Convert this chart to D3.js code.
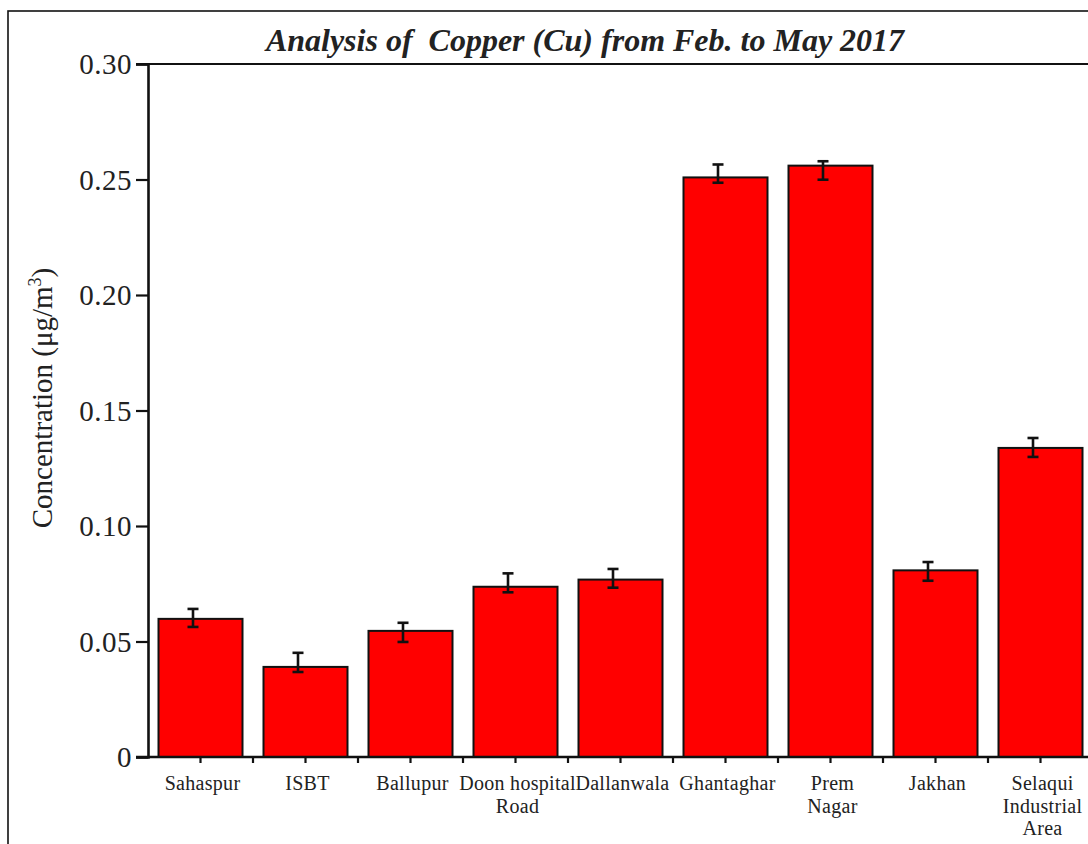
<!DOCTYPE html>
<html>
<head>
<meta charset="utf-8">
<script src="https://cdn.jsdelivr.net/npm/d3@7"></script>
<style>
  html, body { margin: 0; padding: 0; background: #fff; }
  svg { display: block; }
  text { font-family: "Liberation Serif", "Times New Roman", serif; fill: #222; }
</style>
</head>
<body>
<svg id="chart" width="1088" height="844"></svg>
<script>
const categories = ["Sahaspur", "ISBT", "Ballupur", "Doon hospital|Road", "Dallanwala",
                    "Ghantaghar", "Prem|Nagar", "Jakhan", "Selaqui|Industrial|Area"];
const values   = [0.0598, 0.0390, 0.0546, 0.0737, 0.0768, 0.2509, 0.2560, 0.0808, 0.1338];
const errPlus  = [0.0043, 0.0061, 0.0035, 0.0058, 0.0046, 0.0056, 0.0019, 0.0036, 0.0043];
const errMinus = [0.0035, 0.0022, 0.0048, 0.0024, 0.0035, 0.0023, 0.0061, 0.0045, 0.0039];
const yTicks   = [0, 0.05, 0.10, 0.15, 0.20, 0.25, 0.30];
const titleText = "Analysis of  Copper (Cu) from Feb. to May 2017";

const svg = d3.select("#chart");

// outer frame (extends beyond the visible area on right/bottom)
svg.append("rect")
  .attr("x", 8).attr("y", 11).attr("width", 1200).attr("height", 1000)
  .attr("fill", "none").attr("stroke", "#111").attr("stroke-width", 1.6);

const x = d3.scaleBand().domain(categories).range([148, 1093])
  .paddingInner(0.2).paddingOuter(0.1);
const y = d3.scaleLinear().domain([0, 0.30]).range([757, 64]);

// plot box top line
svg.append("line")
  .attr("x1", 136).attr("x2", 1100).attr("y1", y(0.30)).attr("y2", y(0.30))
  .attr("stroke", "#111").attr("stroke-width", 2);

// bars
svg.append("g").selectAll("rect").data(categories).join("rect")
  .attr("x", d => x(d))
  .attr("y", (d, i) => y(values[i]))
  .attr("width", x.bandwidth())
  .attr("height", (d, i) => y(0) - y(values[i]))
  .attr("fill", "#ff0000")
  .attr("stroke", "#111")
  .attr("stroke-width", 2);

// error bars (drawn slightly left of bar centre, as in the original)
const eb = svg.append("g").attr("stroke", "#111").attr("stroke-width", 2.6);
categories.forEach((c, i) => {
  const cx = x(c) + x.bandwidth() / 2 - 7.5;
  const yt = y(values[i] + errPlus[i]);
  const yb = y(values[i] - errMinus[i]);
  eb.append("line").attr("x1", cx).attr("x2", cx).attr("y1", yt).attr("y2", yb);
  eb.append("line").attr("x1", cx - 5.5).attr("x2", cx + 5.5).attr("y1", yt).attr("y2", yt);
  eb.append("line").attr("x1", cx - 5.5).attr("x2", cx + 5.5).attr("y1", yb).attr("y2", yb);
});

// y axis
const yAxis = svg.append("g").attr("transform", "translate(148,0)")
  .call(d3.axisLeft(y).tickValues(yTicks).tickSize(12).tickPadding(4)
    .tickFormat(d => d === 0 ? "0" : d3.format(".2f")(d)));
yAxis.select(".domain").attr("stroke", "#111").attr("stroke-width", 2.6);
yAxis.selectAll(".tick line").attr("stroke", "#111").attr("stroke-width", 2.2);
yAxis.selectAll(".tick text")
  .style("font-family", '"Liberation Serif", "Times New Roman", serif')
  .style("font-size", "29px").style("letter-spacing", "0.5px")
  .attr("fill", "#333").attr("dy", "0.34em");

// x axis
const xAxisG = svg.append("g").attr("transform", "translate(0,757)");
xAxisG.append("line").attr("x1", 136).attr("x2", 1100).attr("y1", 0).attr("y2", 0)
  .attr("stroke", "#111").attr("stroke-width", 2.6);
const tickPos = [];
categories.forEach((c, i) => {
  tickPos.push(x(c) + x.bandwidth() / 2);
  tickPos.push(x.range()[0] + x.step() * (i + 1));
});
xAxisG.selectAll("line.tk").data(tickPos).join("line").attr("class", "tk")
  .attr("x1", d => d).attr("x2", d => d).attr("y1", 0).attr("y2", 6)
  .attr("stroke", "#111").attr("stroke-width", 2.2);

const xl = svg.append("g");
categories.forEach((c, i) => {
  const lines = c.split("|");
  const t = xl.append("text")
    .attr("x", x(c) + x.bandwidth() / 2 + 2)
    .attr("y", 790)
    .attr("text-anchor", "middle")
    .style("font-size", "20px")
    .style("letter-spacing", "0.3px");
  lines.forEach((ln, k) => {
    t.append("tspan").attr("x", x(c) + x.bandwidth() / 2 + 2)
      .attr("dy", k === 0 ? 0 : 22.5).text(ln);
  });
});

// y label
const yl = svg.append("text")
  .attr("transform", "translate(52,398) rotate(-90)")
  .attr("text-anchor", "middle")
  .style("font-size", "29px");
yl.append("tspan").text("Concentration (μg/m");
yl.append("tspan").attr("dy", -11).style("font-size", "18px").text("3");
yl.append("tspan").attr("dy", 11).text(")");

// title
svg.append("text")
  .attr("x", 585).attr("y", 51)
  .attr("text-anchor", "middle")
  .style("white-space", "pre")
  .style("font-size", "32px")
  .style("font-weight", "bold")
  .style("font-style", "italic")
  .text(titleText);
</script>
</body>
</html>
